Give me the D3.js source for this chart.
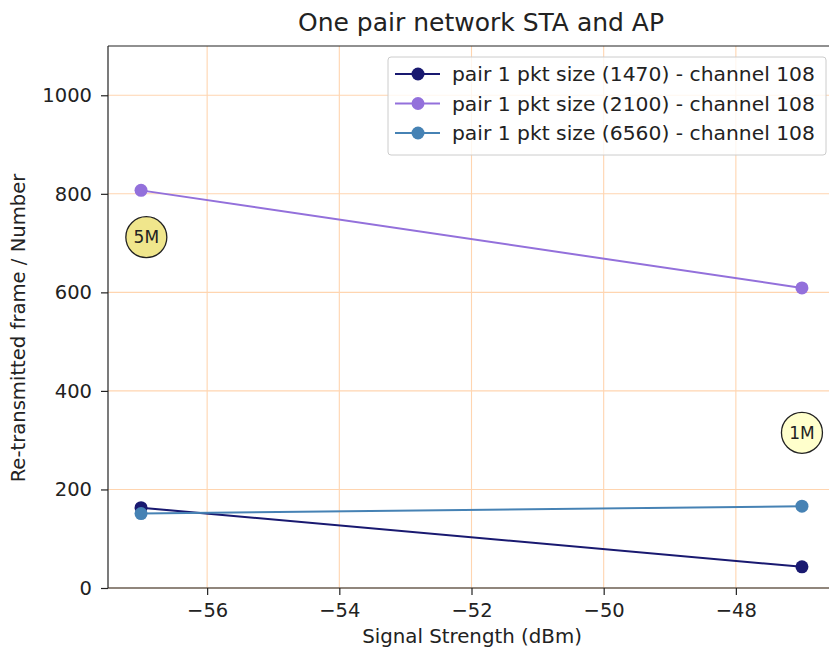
<!DOCTYPE html>
<html>
<head>
<meta charset="utf-8">
<script src="https://cdn.jsdelivr.net/npm/d3@7"></script>
<style>
  body { margin: 0; background: #fff; }
  text { font-family: "DejaVu Sans", sans-serif; fill: #222; }
</style>
</head>
<body>
<script>
const width = 829, height = 651;
const margin = {top: 46, right: -6, bottom: 63, left: 108};

// data
const signal = [-57, -47];
const seriesNames = [
    "pair 1 pkt size (1470) - channel 108",
    "pair 1 pkt size (2100) - channel 108",
    "pair 1 pkt size (6560) - channel 108"
];
const pkt1470 = [163, 43];
const pkt2100 = [807, 609];
const pkt6560 = [151, 166];
const seriesColors = ["#191970", "#9370db", "#4682b4"];
const xTicks = [-56, -54, -52, -50, -48];
const yTicks = [0, 200, 400, 600, 800, 1000];
const notes = [
    {label: "5M", x: -56.92, y: 712, fill: "#f0e68c"},
    {label: "1M", x: -47, y: 315, fill: "#ffffcc"}
];

const series = [pkt1470, pkt2100, pkt6560].map((vals, i) => ({
    name: seriesNames[i],
    color: seriesColors[i],
    points: signal.map((s, j) => ({x: s, y: vals[j]}))
}));

const svg = d3.select("body").append("svg").attr("width", width).attr("height", height);

const x = d3.scaleLinear().domain([-57.5, -46.5]).range([margin.left, width - margin.right]);
const y = d3.scaleLinear().domain([0, 1100]).range([height - margin.bottom, margin.top]);

// grid
svg.append("g").selectAll("line").data(xTicks).join("line")
    .attr("x1", d => x(d)).attr("x2", d => x(d))
    .attr("y1", y(0)).attr("y2", y(1100))
    .attr("stroke", "#ffd5b0").attr("stroke-width", 1.1);
svg.append("g").selectAll("line").data(yTicks).join("line")
    .attr("x1", x(-57.5)).attr("x2", x(-46.5))
    .attr("y1", d => y(d)).attr("y2", d => y(d))
    .attr("stroke", "#ffd5b0").attr("stroke-width", 1.1);

// axes
const xAxis = svg.append("g").attr("transform", `translate(0,${y(0)})`)
    .call(d3.axisBottom(x).tickValues(xTicks).tickSize(7).tickPadding(8).tickFormat(d => "\u2212" + Math.abs(d)));
const yAxis = svg.append("g").attr("transform", `translate(${x(-57.5)},0)`)
    .call(d3.axisLeft(y).tickValues(yTicks).tickSize(7).tickPadding(9).tickFormat(d3.format("d")));
[xAxis, yAxis].forEach(a => {
    a.selectAll("text").style("font-size", "19.5px").attr("fill", "#222");
    a.selectAll("line").attr("stroke", "#222").attr("stroke-width", 1.2);
    a.select(".domain").attr("stroke", "#222").attr("stroke-width", 1.2);
});
xAxis.select(".domain").attr("d", `M${x(-57.5)},0H${x(-46.5)}`);
yAxis.select(".domain").attr("d", `M0,${y(0)}V${y(1100)}`);
svg.append("line").attr("x1", x(-57.5)).attr("x2", x(-46.5))
    .attr("y1", y(1100)).attr("y2", y(1100)).attr("stroke", "#222").attr("stroke-width", 1.2);

// lines and markers
const line = d3.line().x(d => x(d.x)).y(d => y(d.y));
series.forEach(s => {
    svg.append("path").datum(s.points).attr("d", line)
        .attr("fill", "none").attr("stroke", s.color).attr("stroke-width", 2);
    svg.append("g").selectAll("circle").data(s.points).join("circle")
        .attr("cx", d => x(d.x)).attr("cy", d => y(d.y)).attr("r", 6.5)
        .attr("fill", s.color);
});

// annotations
const note = svg.append("g").selectAll("g").data(notes).join("g")
    .attr("transform", d => `translate(${x(d.x)},${y(d.y)})`);
note.append("circle").attr("r", 20.5).attr("fill", d => d.fill)
    .attr("stroke", "#222").attr("stroke-width", 1.3);
note.append("text").attr("text-anchor", "middle").attr("dy", "0.36em")
    .style("font-size", "17px").text(d => d.label);

// legend
const lg = svg.append("g").attr("transform", "translate(388,57)");
lg.append("rect").attr("width", 438).attr("height", 98).attr("rx", 3)
    .attr("fill", "#fff").attr("fill-opacity", 0.8).attr("stroke", "#ccc");
series.forEach((s, i) => {
    const row = lg.append("g").attr("transform", `translate(0,${17 + i * 29.5})`);
    row.append("line").attr("x1", 7).attr("x2", 52).attr("stroke", s.color).attr("stroke-width", 2);
    row.append("circle").attr("cx", 30).attr("r", 6.5).attr("fill", s.color);
    row.append("text").attr("x", 64).attr("dy", "0.35em").style("font-size", "20.3px").text(s.name);
});

// labels
svg.append("text").attr("x", 481).attr("y", 31)
    .attr("text-anchor", "middle").style("font-size", "25px").text("One pair network STA and AP");
svg.append("text").attr("x", 472).attr("y", 643)
    .attr("text-anchor", "middle").style("font-size", "19.8px").text("Signal Strength (dBm)");
svg.append("text").attr("transform", `translate(25,${(y(0) + y(1100)) / 2 + 11}) rotate(-90)`)
    .attr("text-anchor", "middle").style("font-size", "19.6px").text("Re-transmitted frame / Number");
</script>
</body>
</html>
